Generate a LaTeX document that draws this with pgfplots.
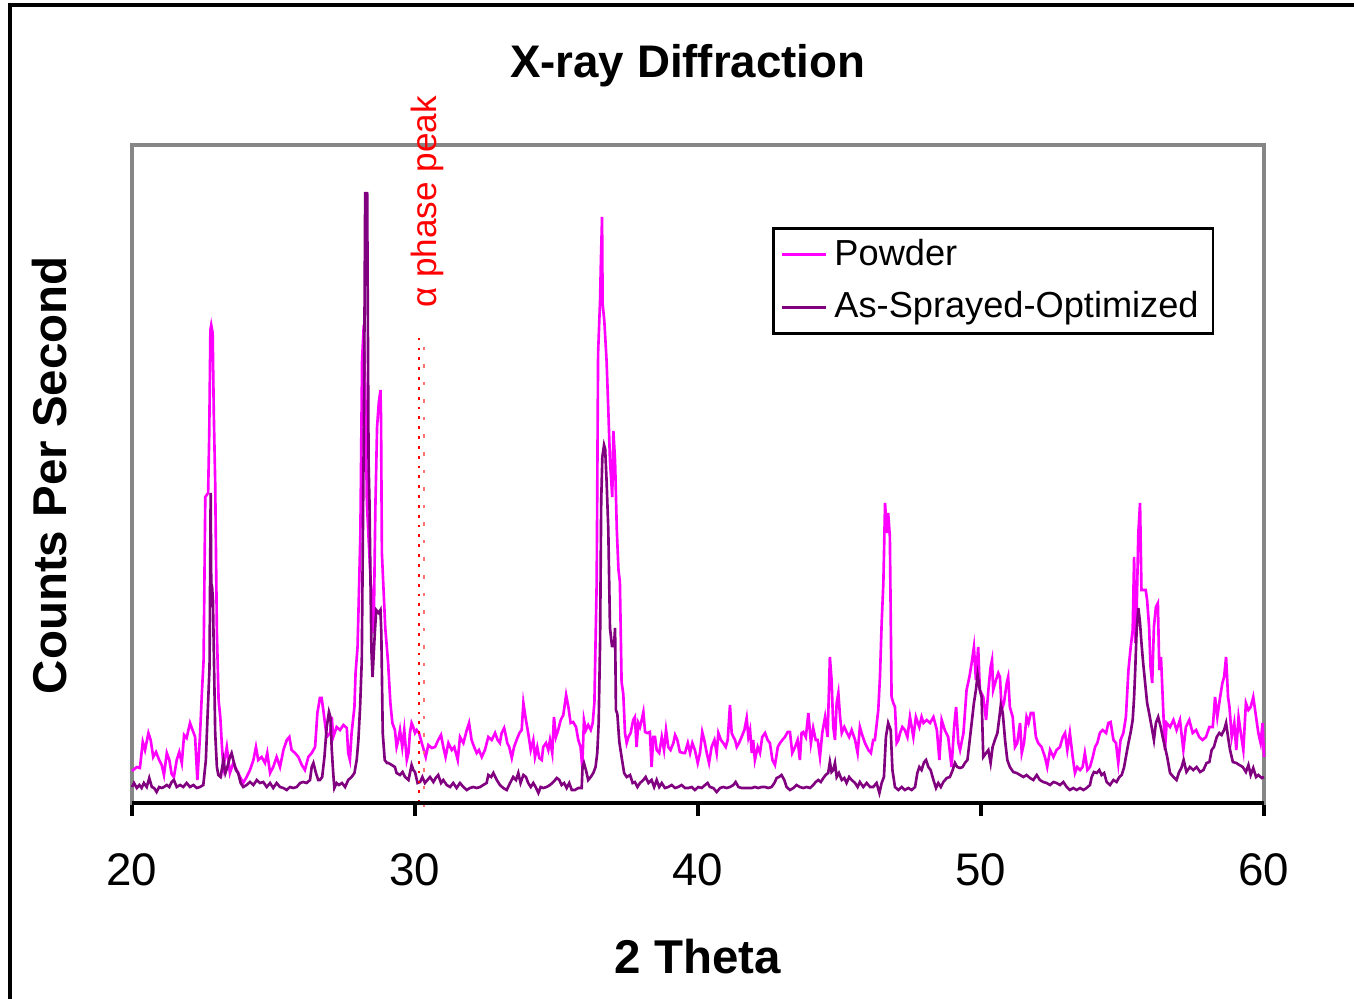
\documentclass[border=0pt]{standalone}
\usepackage{fontspec}
\setmainfont{Liberation Sans}
\usepackage{pgfplots}
\pgfplotsset{compat=1.18}

\definecolor{powder}{HTML}{FF00FF}
\definecolor{sprayed}{HTML}{800080}

% peak heights are read off the picture, arbitrary counts
\pgfplotstableread{
x y
20.00 32
20.17 36
20.28 35
20.38 61
20.46 53
20.58 70
20.66 63
20.75 46
20.85 51
20.96 43
21.05 38
21.13 28
21.23 50
21.32 43
21.40 29
21.48 26
21.58 43
21.67 51
21.76 40
21.84 68
21.93 65
22.05 80
22.14 73
22.23 66
22.31 23
22.40 66
22.47 110
22.53 143
22.59 306
22.69 310
22.73 370
22.77 473
22.80 478
22.85 470
22.89 390
22.94 320
23.00 170
23.06 103
23.12 86
23.18 56
23.23 36
23.35 56
23.46 30
23.58 40
23.70 33
23.82 26
23.93 20
24.05 26
24.17 33
24.29 43
24.38 56
24.46 43
24.58 46
24.70 40
24.78 50
24.88 30
24.99 36
25.11 46
25.23 36
25.35 53
25.47 63
25.56 66
25.64 53
25.76 50
25.88 46
26.00 38
26.11 33
26.23 46
26.35 50
26.47 56
26.55 90
26.64 105
26.70 105
26.76 93
26.88 66
27.00 70
27.06 86
27.11 66
27.23 76
27.35 73
27.47 78
27.59 75
27.64 50
27.70 43
27.76 70
27.86 96
27.90 130
27.97 156
28.01 200
28.07 270
28.13 443
28.19 478
28.24 420
28.30 300
28.42 230
28.54 170
28.60 296
28.66 376
28.72 400
28.78 413
28.80 385
28.83 250
28.95 175
29.05 140
29.13 100
29.20 80
29.29 73
29.35 56
29.41 63
29.47 73
29.55 56
29.62 73
29.71 43
29.77 50
29.82 70
29.88 80
29.94 76
30.00 70
30.06 73
30.14 70
30.21 63
30.29 55
30.38 46
30.47 58
30.59 55
30.71 56
30.82 63
30.92 68
31.00 56
31.08 46
31.18 60
31.30 53
31.39 56
31.51 43
31.59 66
31.71 60
31.83 73
31.91 80
32.00 63
32.09 56
32.18 50
32.26 53
32.36 46
32.47 53
32.59 66
32.71 63
32.83 70
32.92 63
33.00 60
33.06 70
33.15 75
33.22 66
33.26 60
33.33 56
33.42 45
33.50 56
33.59 63
33.69 70
33.77 73
33.83 100
33.92 83
34.00 70
34.09 53
34.18 63
34.24 46
34.32 56
34.39 45
34.48 43
34.53 56
34.63 60
34.71 53
34.77 63
34.85 50
34.91 86
34.98 66
35.06 73
35.15 83
35.24 88
35.34 108
35.42 96
35.50 80
35.59 81
35.69 76
35.77 63
35.85 56
35.91 36
35.97 83
36.04 73
36.12 78
36.21 73
36.28 80
36.34 101
36.42 221
36.47 450
36.54 503
36.57 543
36.61 586
36.63 499
36.69 482
36.77 442
36.83 394
36.89 342
36.97 306
37.01 372
37.07 342
37.13 274
37.19 233
37.24 221
37.30 121
37.36 109
37.42 70
37.48 60
37.54 66
37.62 70
37.71 83
37.77 86
37.83 56
37.89 80
37.95 76
38.01 83
38.07 91
38.13 71
38.21 70
38.30 71
38.36 36
38.42 66
38.48 66
38.54 53
38.63 50
38.72 66
38.80 53
38.87 73
38.95 56
39.03 53
39.13 60
39.19 68
39.27 63
39.36 51
39.48 50
39.54 50
39.64 60
39.72 50
39.80 60
39.89 53
39.99 40
40.07 50
40.15 71
40.22 63
40.31 50
40.39 40
40.48 56
40.58 63
40.66 50
40.72 70
40.81 63
40.89 60
40.98 56
41.05 63
41.13 98
41.19 70
41.25 66
41.31 63
41.37 56
41.45 60
41.54 66
41.64 73
41.72 85
41.78 66
41.84 73
41.90 50
41.95 63
42.01 43
42.11 56
42.19 50
42.27 66
42.37 70
42.46 63
42.54 60
42.63 43
42.72 38
42.82 56
42.90 60
42.98 63
43.07 66
43.17 71
43.25 71
43.33 50
43.43 56
43.52 63
43.60 43
43.66 70
43.72 71
43.81 66
43.90 90
43.99 60
44.07 75
44.16 63
44.23 63
44.31 46
44.39 70
44.49 86
44.58 66
44.66 146
44.72 123
44.78 76
44.84 63
44.90 100
44.96 110
45.02 86
45.08 70
45.17 76
45.25 71
45.34 66
45.43 73
45.55 63
45.64 50
45.72 76
45.78 70
45.90 60
46.02 53
46.11 50
46.19 63
46.25 63
46.37 93
46.43 126
46.49 180
46.55 220
46.61 300
46.67 270
46.72 290
46.78 266
46.84 106
46.90 100
46.96 96
47.02 60
47.08 63
47.14 70
47.22 76
47.31 73
47.40 66
47.49 86
47.61 66
47.70 86
47.82 76
47.90 86
47.97 80
48.08 83
48.20 80
48.32 86
48.44 73
48.53 43
48.61 83
48.72 73
48.84 66
48.96 36
49.05 76
49.12 96
49.20 60
49.26 53
49.38 70
49.49 113
49.59 126
49.67 140
49.75 156
49.82 123
49.90 156
49.96 113
50.08 106
50.18 83
50.26 113
50.34 136
50.39 143
50.43 113
50.53 123
50.61 130
50.67 126
50.73 93
50.81 100
50.91 120
50.96 126
51.02 96
51.12 86
51.20 56
51.28 60
51.38 80
51.44 50
51.52 60
51.61 86
51.68 80
51.76 90
51.85 90
51.94 66
52.02 60
52.14 56
52.26 46
52.34 36
52.44 53
52.56 46
52.67 53
52.79 56
52.89 66
52.97 70
53.05 53
53.14 70
53.24 46
53.32 30
53.40 36
53.50 33
53.59 36
53.67 50
53.76 33
53.85 36
53.95 46
54.03 56
54.11 60
54.20 70
54.30 73
54.42 70
54.50 80
54.58 81
54.68 63
54.77 60
54.85 40
54.93 63
55.03 70
55.12 86
55.21 133
55.29 156
55.36 173
55.41 246
55.45 160
55.50 193
55.56 270
55.62 300
55.67 213
55.73 213
55.82 213
55.87 203
55.94 176
55.99 136
56.05 120
56.11 176
56.18 196
56.25 200
56.30 133
56.36 146
56.42 106
56.50 53
56.56 80
56.68 76
56.80 83
56.91 73
57.03 83
57.15 53
57.24 76
57.36 83
57.48 70
57.60 73
57.71 66
57.83 63
57.95 66
58.07 76
58.19 76
58.27 106
58.35 86
58.45 106
58.53 120
58.59 126
58.66 146
58.73 106
58.78 96
58.86 66
58.95 80
59.02 53
59.10 86
59.18 70
59.27 53
59.36 100
59.45 93
59.53 96
59.62 106
59.72 86
59.80 70
59.88 60
59.95 80
60.00 46
}\powdertab

\pgfplotstableread{
x y
20.00 16
20.07 20
20.17 15
20.26 18
20.34 15
20.42 20
20.52 16
20.61 25
20.70 16
20.78 15
20.87 11
20.96 16
21.05 15
21.13 16
21.23 18
21.32 16
21.40 21
21.48 23
21.58 16
21.70 18
21.81 16
21.93 20
22.05 16
22.17 18
22.29 15
22.40 16
22.52 18
22.61 43
22.66 80
22.74 136
22.78 310
22.80 220
22.83 216
22.86 203
22.91 120
22.94 70
23.00 36
23.05 28
23.13 26
23.23 43
23.30 30
23.37 36
23.46 46
23.52 50
23.58 43
23.67 33
23.75 30
23.84 20
23.93 16
24.05 18
24.17 21
24.29 18
24.41 23
24.52 20
24.64 21
24.76 16
24.88 20
24.99 15
25.11 20
25.23 16
25.35 15
25.47 13
25.58 16
25.70 15
25.82 16
25.94 20
26.05 21
26.17 20
26.29 23
26.35 36
26.41 40
26.50 30
26.58 23
26.64 23
26.72 26
26.80 46
26.88 76
26.96 91
27.01 86
27.06 53
27.11 30
27.15 15
27.23 20
27.31 18
27.42 20
27.53 16
27.64 23
27.76 26
27.86 30
27.94 43
28.00 63
28.06 96
28.12 143
28.20 403
28.24 611
28.28 560
28.31 611
28.36 340
28.39 303
28.46 153
28.50 126
28.58 170
28.63 193
28.72 190
28.78 193
28.81 170
28.86 70
28.93 43
29.01 40
29.06 40
29.18 38
29.29 36
29.35 30
29.47 28
29.56 31
29.65 26
29.77 23
29.88 38
29.94 33
30.00 31
30.09 20
30.18 21
30.26 26
30.35 20
30.44 23
30.53 26
30.65 21
30.73 25
30.82 28
30.92 20
31.00 23
31.12 18
31.24 16
31.35 20
31.47 15
31.59 20
31.71 16
31.83 13
31.94 15
32.06 16
32.18 15
32.30 16
32.41 18
32.53 20
32.59 28
32.69 26
32.77 30
32.89 23
33.00 18
33.12 15
33.24 13
33.36 20
33.47 26
33.57 23
33.65 30
33.73 20
33.83 28
33.92 26
34.00 20
34.09 16
34.18 20
34.28 15
34.36 10
34.44 16
34.53 15
34.65 16
34.77 18
34.89 21
35.01 25
35.10 23
35.18 18
35.27 20
35.36 15
35.45 20
35.54 13
35.65 13
35.77 15
35.89 15
35.92 36
35.97 40
36.04 33
36.12 23
36.21 26
36.30 30
36.38 36
36.44 50
36.49 80
36.54 161
36.58 302
36.62 346
36.68 358
36.72 354
36.77 322
36.83 274
36.89 175
36.96 157
37.03 157
37.07 175
37.10 93
37.15 89
37.22 61
37.30 46
37.39 30
37.48 26
37.60 28
37.69 20
37.77 21
37.86 16
37.95 20
38.07 23
38.15 26
38.25 20
38.36 23
38.45 16
38.54 23
38.63 16
38.72 20
38.83 15
38.95 16
39.07 18
39.19 15
39.30 16
39.42 18
39.54 15
39.66 15
39.78 16
39.89 13
40.01 16
40.13 15
40.25 18
40.34 20
40.42 16
40.54 15
40.66 11
40.78 15
40.89 16
41.01 15
41.13 16
41.25 18
41.33 21
41.43 16
41.54 15
41.66 15
41.78 15
41.90 15
42.01 16
42.13 15
42.25 16
42.37 16
42.48 15
42.60 16
42.70 20
42.78 25
42.86 26
42.95 28
43.05 23
43.13 16
43.25 13
43.37 15
43.48 18
43.60 16
43.72 15
43.84 16
43.96 15
44.07 18
44.16 21
44.25 23
44.34 21
44.43 25
44.51 28
44.60 30
44.66 41
44.72 31
44.78 33
44.84 40
44.90 26
44.98 30
45.08 23
45.17 25
45.25 20
45.34 26
45.43 23
45.55 20
45.64 16
45.72 21
45.84 16
45.96 20
46.08 16
46.19 16
46.31 20
46.41 10
46.49 20
46.57 26
46.64 66
46.72 80
46.81 73
46.87 33
46.96 16
47.08 13
47.20 16
47.31 13
47.43 15
47.55 13
47.67 16
47.75 30
47.82 36
47.90 33
47.99 41
48.06 43
48.14 36
48.22 33
48.32 23
48.41 15
48.49 20
48.58 16
48.67 21
48.79 25
48.90 26
49.00 33
49.08 40
49.16 36
49.26 35
49.35 36
49.43 40
49.52 43
49.59 60
49.67 80
49.75 100
49.82 113
49.88 128
49.96 113
50.02 106
50.08 46
50.18 50
50.26 53
50.34 40
50.41 56
50.49 63
50.58 70
50.65 86
50.70 98
50.77 90
50.85 63
50.93 43
51.02 36
51.14 31
51.26 30
51.38 28
51.50 26
51.61 28
51.73 25
51.85 23
51.97 28
52.08 23
52.20 21
52.32 20
52.44 18
52.56 21
52.67 20
52.79 18
52.91 21
53.03 16
53.14 13
53.26 15
53.38 13
53.50 15
53.62 13
53.73 15
53.85 18
53.91 26
53.99 31
54.09 30
54.18 33
54.26 28
54.35 30
54.44 21
54.56 18
54.68 23
54.79 21
54.89 26
54.97 28
55.05 35
55.12 46
55.21 60
55.29 71
55.36 83
55.41 106
55.45 133
55.50 173
55.56 195
55.62 180
55.67 160
55.73 140
55.80 120
55.87 100
55.94 90
56.03 76
56.11 63
56.18 80
56.26 86
56.35 76
56.42 66
56.50 56
56.58 46
56.68 30
56.80 26
56.91 23
57.00 31
57.08 35
57.16 43
57.26 31
57.38 36
57.50 33
57.62 36
57.74 31
57.86 33
57.97 40
58.07 41
58.15 53
58.23 56
58.33 66
58.42 70
58.50 68
58.59 73
58.66 80
58.73 66
58.80 53
58.90 41
59.02 40
59.13 38
59.25 36
59.36 31
59.45 38
59.53 28
59.62 35
59.72 26
59.80 28
59.92 25
60.00 26
}\sprayedtab

\begin{document}
\begin{tikzpicture}[x=1cm,y=1cm]
\path[use as bounding box] (-1.32,-1.96) rectangle (12.22,8.03);
% chart area frame
\draw[black, line width=0.9pt] (-1.22,-1.96) -- (-1.22,7.98) -- (12.22,7.98);
\begin{axis}[
    at={(0,0)}, anchor=south west,
    scale only axis, width=11.32cm, height=6.58cm,
    xmin=20, xmax=60, ymin=0, ymax=658,
    xtick={20,30,40,50,60}, ytick=\empty,
    xtick pos=left, tick align=outside,
    major tick length=0.13cm,
    axis line style={draw=gray!95, line width=0.9pt},
    x tick style={black, line width=0.9pt},
    /pgf/number format/assume math mode=true,
    xticklabel style={font=\fontsize{13}{13}\selectfont, yshift=-0.25cm},
    title={X-ray Diffraction},
    every axis title/.style={at={(0.491,1.12)}, anchor=center,
                 font=\bfseries\fontsize{13}{13}\selectfont},
    xlabel={2 Theta},
    xlabel style={at={(axis description cs:0.5,-0.234)}, anchor=center,
                  font=\bfseries\fontsize{13.5}{13.5}\selectfont},
    ylabel={Counts Per Second},
    ylabel style={at={(axis description cs:-0.0724,0.498)}, anchor=center,
                  font=\bfseries\fontsize{13.5}{13.5}\selectfont},
    clip=false,
    legend cell align=left,
    legend image code/.code={\draw[#1] (0cm,0cm) -- (0.44cm,0cm);},
    legend style={at={(0.5654,0.8754)}, anchor=north west,
                  draw=black, line width=0.8pt,
                  font=\fontsize{10.3}{12}\selectfont,
                  nodes={inner sep=2pt},
                  inner xsep=2.1pt, inner ysep=1pt, row sep=2pt},
]
\addplot[powder, line width=0.75pt] table[x=x, y=y] {\powdertab};
\addlegendentry{Powder}
\addplot[sprayed, line width=0.75pt] table[x=x, y=y] {\sprayedtab};
\addlegendentry{As-Sprayed-Optimized}
\addplot[red, dotted, line width=0.8pt, forget plot] coordinates {(30.14,0) (30.14,466)};
\addplot[red!55, dash pattern=on 1pt off 4pt, line width=0.6pt, forget plot] coordinates {(30.33,-4) (30.33,460)};
\node[rotate=90, text=red, font=\fontsize{10}{10}\selectfont] at (axis cs:30.45,601) {α phase peak};
\draw[black, line width=0.9pt] (rel axis cs:0,0) -- (rel axis cs:1,0);
\end{axis}
\end{tikzpicture}
\end{document}
